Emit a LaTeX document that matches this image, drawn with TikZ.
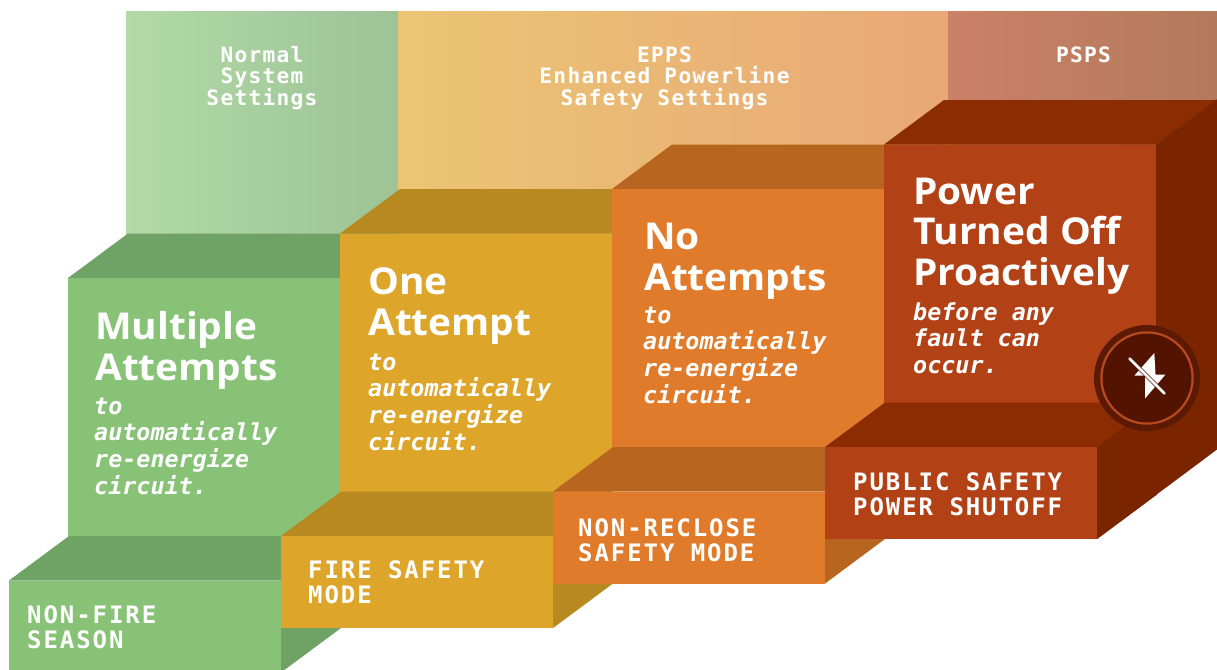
\documentclass[tikz,border=0pt]{standalone}
\usepackage{fontspec}
\newfontfamily\hdsans{Open Sans}[FakeStretch=1.05]
\newfontfamily\hdrmono{DejaVu Sans Mono}[LetterSpace=6]
\newfontfamily\lblmono{DejaVu Sans Mono}[LetterSpace=8]
\newfontfamily\bodymono{DejaVu Sans Mono}
\definecolor{gF}{HTML}{88C277}
\definecolor{gT}{HTML}{6FA265}
\definecolor{yF}{HTML}{DEA52B}
\definecolor{yT}{HTML}{B88920}
\definecolor{oF}{HTML}{E07B2B}
\definecolor{oT}{HTML}{B8661F}
\definecolor{rF}{HTML}{B24216}
\definecolor{rT}{HTML}{8C2C02}
\definecolor{rS}{HTML}{7A2500}
\definecolor{hGa}{HTML}{B2D9A7}
\definecolor{hGb}{HTML}{9DC396}
\definecolor{hOa}{HTML}{EBC574}
\definecolor{hOb}{HTML}{E9A877}
\definecolor{hRa}{HTML}{CB8167}
\definecolor{hRb}{HTML}{B27A5C}
\definecolor{cOut}{HTML}{5C1A05}
\definecolor{cIn}{HTML}{521300}
\definecolor{cRing}{HTML}{B84A1F}
\tikzset{
  hdtxt/.style={text=white, inner sep=0pt, anchor=base west, font=\hdsans\bfseries\fontsize{37}{40}\selectfont},
  bodytxt/.style={text=white, inner sep=0pt, anchor=base west, font=\bodymono\bfseries\itshape\fontsize{23.4}{27}\selectfont},
  lbltxt/.style={text=white, inner sep=0pt, anchor=base west, font=\lblmono\bfseries\fontsize{24}{25}\selectfont},
  toptxt/.style={text=white, inner sep=0pt, anchor=base, font=\hdrmono\bfseries\fontsize{21.2}{21}\selectfont},
}
\begin{document}
\begin{tikzpicture}[x=1pt,y=-1pt]
\useasboundingbox (0,0) rectangle (1217,669);
\fill[white] (0,0) rectangle (1217,669);
% header panels
\shade[left color=hGa, right color=hGb] (126,12) rectangle (398,300);
\shade[left color=hOa, right color=hOb] (398,12) rectangle (948,260);
\shade[left color=hRa, right color=hRb] (948,12) rectangle (1217,180);
% tall blocks
\foreach \i/\cf/\ct in {0/gF/gT,1/yF/yT,2/oF/oT,3/rF/rT}{
  \pgfmathsetmacro\bx{68+272*\i}
  \pgfmathsetmacro\by{278-44.5*\i}
  \fill[\ct] (\bx+272,\by) -- ++(60,-44.5) -- ++(0,258) -- ++(-60,44.5) -- cycle;
  \fill[\ct] (\bx,\by) -- ++(60,-44.5) -- ++(272,0) -- ++(-60,44.5) -- cycle;
  \fill[\cf] (\bx,\by) rectangle ++(272,258);
}
% small blocks
\foreach \i/\cf/\ct in {0/gF/gT,1/yF/yT,2/oF/oT,3/rF/rT}{
  \pgfmathsetmacro\sx{9+272*\i}
  \pgfmathsetmacro\sy{580.5-44.5*\i}
  \fill[\ct] (\sx+272,\sy) -- ++(60,-44.5) -- ++(0,92) -- ++(-60,44.5) -- cycle;
  \fill[\ct] (\sx,\sy) -- ++(60,-44.5) -- ++(272,0) -- ++(-60,44.5) -- cycle;
  \fill[\cf] (\sx,\sy) rectangle ++(272,92);
}
% dark right side of the PSPS blocks
\fill[rS] (1156,144.5) -- (1217,99.3) -- (1217,449.5) -- (1097,539) -- (1097,447) -- (1156,402.5) -- cycle;
% icon
\fill[cOut] (1147,378) circle (53);
\fill[cIn] (1147,378) circle (44.5);
\draw[cRing, line width=2.2pt] (1147,378) circle (45.6);
\fill[white] (1154.3,353) -- (1134.5,375.5) -- (1145,375.5) -- (1145,398.5) -- (1165.5,374.5) -- (1155.5,374.5) -- cycle;
\draw[cIn, line width=4pt] (1128,357) -- (1166,395);
\draw[white, line width=2.6pt, line cap=round] (1129.5,358.5) -- (1164.5,393.5);
% header texts
\foreach \t [count=\n] in {Normal,System,Settings}
  \node[toptxt] (hn\n) at (262,{62.3+21.4*(\n-1)}) {\t};
\foreach \t [count=\n] in {EPPS,Enhanced Powerline,Safety Settings}
  \node[toptxt] (he\n) at (664.5,{62.3+21.4*(\n-1)}) {\t};
\node[toptxt] (hp1) at (1083.5,62.3) {PSPS};
% tall block texts
\foreach \t [count=\n] in {Multiple,Attempts}
  \node[hdtxt] (ga\n) at (95,{339.5+40.5*(\n-1)}) {\t};
\foreach \t [count=\n] in {to,automatically,re-energize,circuit.}
  \node[bodytxt] (gb\n) at (94,{414+26.8*(\n-1)}) {\t};
\foreach \t [count=\n] in {One,Attempt}
  \node[hdtxt] (ya\n) at (368,{294.8+40.5*(\n-1)}) {\t};
\foreach \t [count=\n] in {to,automatically,re-energize,circuit.}
  \node[bodytxt] (yb\n) at (368,{370+26.8*(\n-1)}) {\t};
\foreach \t [count=\n] in {No,Attempts}
  \node[hdtxt] (oa\n) at (644,{249.5+40.5*(\n-1)}) {\t};
\foreach \t [count=\n] in {to,automatically,re-energize,circuit.}
  \node[bodytxt] (ob\n) at (643,{323+26.8*(\n-1)}) {\t};
\foreach \t [count=\n] in {Power,Turned Off,Proactively}
  \node[hdtxt] (ra\n) at (913,{204.5+40.3*(\n-1)}) {\t};
\foreach \t [count=\n] in {before any,fault can,occur.}
  \node[bodytxt] (rb\n) at (913,{320+26.8*(\n-1)}) {\t};
% small block labels
\foreach \t [count=\n] in {NON-FIRE,SEASON}
  \node[lbltxt] (gl\n) at (27,{623+25*(\n-1)}) {\t};
\foreach \t [count=\n] in {FIRE SAFETY,MODE}
  \node[lbltxt] (yl\n) at (308,{578+25*(\n-1)}) {\t};
\foreach \t [count=\n] in {NON-RECLOSE,SAFETY MODE}
  \node[lbltxt] (ol\n) at (578,{536+25*(\n-1)}) {\t};
\foreach \t [count=\n] in {PUBLIC SAFETY,POWER SHUTOFF}
  \node[lbltxt] (rl\n) at (853,{490+25*(\n-1)}) {\t};
\end{tikzpicture}
\end{document}
